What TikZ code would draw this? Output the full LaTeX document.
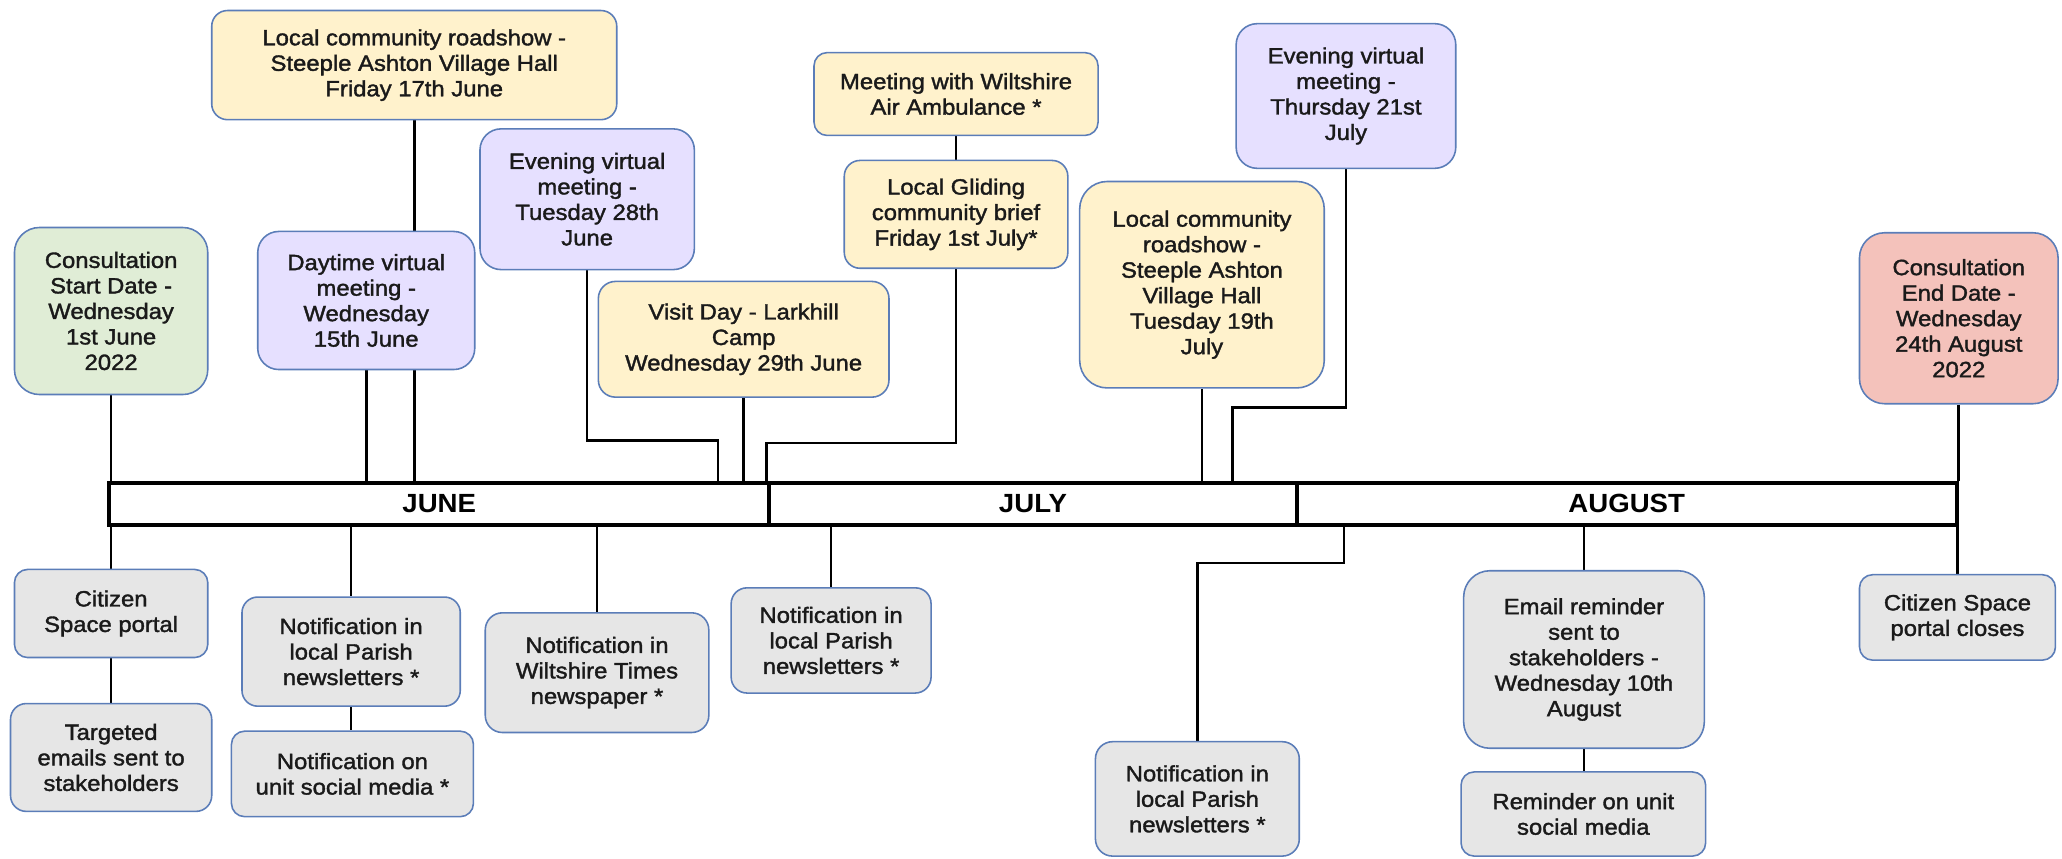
\documentclass[tikz,border=0pt]{standalone}
\usepackage{fontspec}
\newfontfamily\arialx{Liberation Sans}[FakeStretch=1.08,FakeBold=1.6]
\newfontfamily\arialm{Liberation Sans}[FakeStretch=1.05]
\pgfdeclarelayer{bg}
\pgfsetlayers{bg,main}
\definecolor{yel}{HTML}{FFF2CC}
\definecolor{pur}{HTML}{E6E0FF}
\definecolor{grn}{HTML}{E0EDD6}
\definecolor{rdd}{HTML}{F4C2BB}
\definecolor{gry}{HTML}{E6E6E6}
\definecolor{bcol}{HTML}{5B7DB8}
\definecolor{txt}{HTML}{1A1A1A}
\tikzset{
  box/.style={draw=bcol, line width=1.2pt, rounded corners=#1, align=center, inner sep=0pt,
    font=\arialx\fontsize{16.8}{19.4}\selectfont, text=txt},
  month/.style={draw=black, fill=white, line width=3pt, inner sep=0pt, minimum height=32pt,
    font=\arialm\bfseries\fontsize{20}{22}\selectfont},
  conn/.style={draw=black, line width=2pt}
}
\begin{document}
\begin{tikzpicture}[x=1pt,y=-1pt]
\useasboundingbox (0,0) rectangle (1568,653);
% timeline bar
\node[month, minimum width=502pt] (june) at (334,383) {JUNE};
\node[month, minimum width=401pt] (july) at (785.5,383) {JULY};
\node[month, minimum width=502pt] (aug) at (1237,383) {AUGUST};
% upper boxes
\node[box=19pt, fill=grn, minimum width=147pt, minimum height=127pt] (start) at (84.5,236.5) {Consultation\\Start Date -\\Wednesday\\1st June\\2022};
\node[box=12pt, fill=yel, minimum width=308pt, minimum height=83pt] (rsJ) at (315,49.5) {Local community roadshow -\\Steeple Ashton Village Hall\\Friday 17th June};
\node[box=16pt, fill=pur, minimum width=165pt, minimum height=105pt] (day) at (278.5,228.5) {Daytime virtual\\meeting -\\Wednesday\\15th June};
\node[box=16pt, fill=pur, minimum width=163pt, minimum height=107pt] (ev1) at (446.5,151.5) {Evening virtual\\meeting -\\Tuesday 28th\\June};
\node[box=13pt, fill=yel, minimum width=221pt, minimum height=88pt] (visit) at (565.5,258) {Visit Day - Larkhill\\Camp\\Wednesday 29th June};
\node[box=10pt, fill=yel, minimum width=216pt, minimum height=63pt] (meet) at (727,71.5) {Meeting with Wiltshire\\Air Ambulance *};
\node[box=12pt, fill=yel, minimum width=170pt, minimum height=82pt] (glide) at (727,163) {Local Gliding\\community brief\\Friday 1st July*};
\node[box=21pt, fill=yel, minimum width=186pt, minimum height=157pt] (rsJul) at (914,216.5) {Local community\\roadshow -\\Steeple Ashton\\Village Hall\\Tuesday 19th\\July};
\node[box=16pt, fill=pur, minimum width=167pt, minimum height=110pt] (ev2) at (1023.5,73) {Evening virtual\\meeting -\\Thursday 21st\\July};
\node[box=19pt, fill=rdd, minimum width=151pt, minimum height=130pt] (end) at (1489.5,242) {Consultation\\End Date -\\Wednesday\\24th August\\2022};
% lower boxes
\node[box=10pt, fill=gry, minimum width=147pt, minimum height=67pt] (cit) at (84.5,466.5) {Citizen\\Space portal};
\node[box=12pt, fill=gry, minimum width=153pt, minimum height=82pt] (targ) at (84.5,576) {Targeted\\emails sent to\\stakeholders};
\node[box=12pt, fill=gry, minimum width=166pt, minimum height=83pt] (parJ) at (267,495.5) {Notification in\\local Parish\\newsletters *};
\node[box=10pt, fill=gry, minimum width=184pt, minimum height=65pt] (soc) at (268,588.5) {Notification on\\unit social media *};
\node[box=13pt, fill=gry, minimum width=170pt, minimum height=91pt] (times) at (454,511.5) {Notification in\\Wiltshire Times\\newspaper *};
\node[box=12pt, fill=gry, minimum width=152pt, minimum height=80pt] (parJul) at (632,487) {Notification in\\local Parish\\newsletters *};
\node[box=13pt, fill=gry, minimum width=155pt, minimum height=87pt] (parA) at (910.5,607.5) {Notification in\\local Parish\\newsletters *};
\node[box=20pt, fill=gry, minimum width=183pt, minimum height=135pt] (email) at (1204.5,501.5) {Email reminder\\sent to\\stakeholders -\\Wednesday 10th\\August};
\node[box=10pt, fill=gry, minimum width=186pt, minimum height=64pt] (rem) at (1204,619) {Reminder on unit\\social media};
\node[box=10pt, fill=gry, minimum width=149pt, minimum height=65pt] (clos) at (1488.5,469.5) {Citizen Space\\portal closes};
% bend points
\coordinate (b1) at (546,335);
\coordinate (b2) at (583,337);
\coordinate (b3) at (937,310);
\coordinate (b4) at (1022,428);
\begin{pgfonlayer}{bg}
\draw[conn] (start.south) -- (start.south |- june.north);
\draw[conn] (rsJ.south) -- (rsJ.south |- june.north);
\draw[conn] (day.south) -- (day.south |- june.north);
\draw[conn] (ev1.south) |- (b1) -- (b1 |- june.north);
\draw[conn] (visit.south) -- (visit.south |- june.north);
\draw[conn] (meet.south) -- (glide.north);
\draw[conn] (glide.south) |- (b2) -- (b2 |- july.north);
\draw[conn] (rsJul.south) -- (rsJul.south |- july.north);
\draw[conn] (ev2.south) |- (b3) -- (b3 |- july.north);
\draw[conn] (end.south) -- (end.south |- aug.north);
\draw[conn] (cit.north |- june.south) -- (cit.north);
\draw[conn] (cit.south) -- (targ.north);
\draw[conn] (parJ.north |- june.south) -- (parJ.north);
\draw[conn] (parJ.south) -- (soc.north -| parJ.south);
\draw[conn] (times.north |- june.south) -- (times.north);
\draw[conn] (parJul.north |- july.south) -- (parJul.north);
\draw[conn] (b4 |- aug.south) -- (b4) -| (parA.north);
\draw[conn] (email.north |- aug.south) -- (email.north);
\draw[conn] (email.south) -- (rem.north -| email.south);
\draw[conn] (clos.north |- aug.south) -- (clos.north);
\end{pgfonlayer}
\end{tikzpicture}
\end{document}
